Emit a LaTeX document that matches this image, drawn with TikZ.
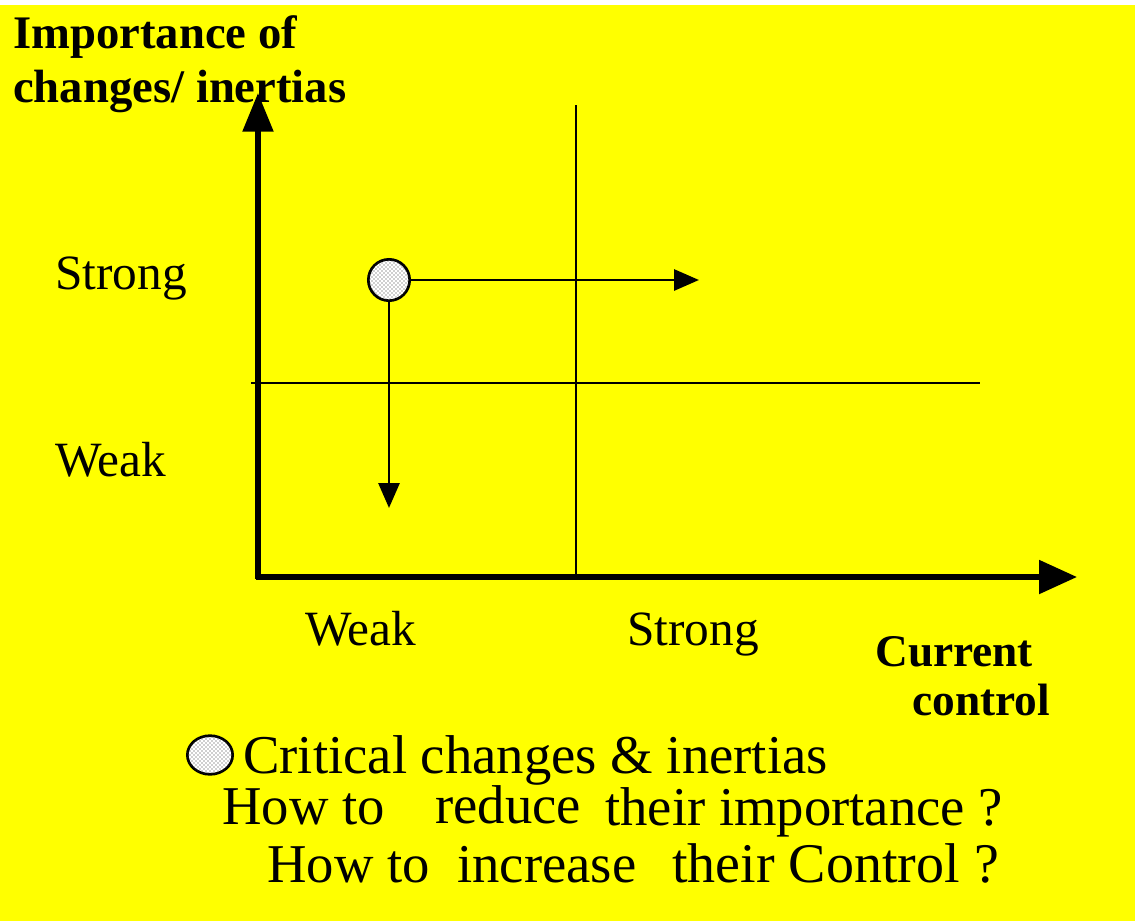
\documentclass[tikz,border=0pt]{standalone}
\usepackage{fontspec}
\setmainfont{Liberation Serif}
\usetikzlibrary{arrows.meta,patterns,shapes.geometric}
\definecolor{bgyellow}{RGB}{255,255,0}
\begin{document}
\begin{tikzpicture}[x=0.75pt,y=-0.75pt,
  axis/.style={line width=4pt},
  grid/.style={line width=1.1pt},
  move/.style={line width=2.2pt,-{Triangle[length=18.75pt,width=15.75pt]}},
  dotball/.style={circle,draw=black,line width=2pt,fill=white,inner sep=0pt,
    postaction={pattern=crosshatch dots,pattern color=black!80}},
  lbl/.style={anchor=base west,inner sep=0pt,font=\fontsize{37}{44}\selectfont},
  head/.style={anchor=base west,inner sep=0pt,font=\bfseries\fontsize{35}{42}\selectfont},
  legend/.style={anchor=base west,inner sep=0pt,font=\fontsize{41}{48}\selectfont}]
\useasboundingbox (0,0) rectangle (1135,921);
\fill[white] (0,0) rectangle (1135,921);
\fill[bgyellow] (0,5) rectangle (1135,921);
% axes
\coordinate (o) at (258,577);
\coordinate (ytip) at (258,93);
\coordinate (xtip) at (1077,577);
\draw[axis,-{Triangle[length=29pt,width=22.5pt]}] (258,579) -- (ytip);
\draw[axis,-{Triangle[length=28.5pt,width=24.75pt]}] (256,577) -- (xtip);
% quadrant lines
\coordinate (vt) at (576,105);
\coordinate (vb) at (576,577);
\coordinate (hl) at (251,383);
\coordinate (hr) at (980,383);
\draw[grid] (vt) -- (vb);
\draw[grid] (hl) -- (hr);
% critical point
\node[dotball,minimum size=31pt] (c) at (389,280) {};
\coordinate (rt) at (699,280);
\coordinate (dn) at (389,508);
\draw[move] (c.east) -- (rt);
\draw[move] (c.south) -- (dn);
% labels
\node[head] (t1) at (13,48) {Importance of};
\node[head] (t2) at (13,102) {changes/ inertias};
\node[lbl] (ys) at (55,289) {Strong};
\node[lbl] (yw) at (55,476) {Weak};
\node[lbl] (xw) at (305,645) {Weak};
\node[lbl] (xs) at (627,645) {Strong};
\node[head,font=\bfseries\fontsize{34}{40}\selectfont] (cx1) at (875,666) {Current};
\node[head,font=\bfseries\fontsize{34}{40}\selectfont] (cx2) at (912,715) {control};
% legend
\node[dotball,ellipse,minimum width=34pt,minimum height=29pt] (lc) at (210,755) {};
\node[legend] (l1) at (243,773) {Critical changes \& inertias};
\node[legend] (l2a) at (222,824) {How to};
\node[legend] (l2b) at (435,823) {reduce};
\node[legend] (l2c) at (605,825) {their importance ?};
\node[legend] (l3a) at (267,882) {How to};
\node[legend] (l3b) at (457,882) {increase};
\node[legend,font=\fontsize{42}{48}\selectfont] (l3c) at (672,882) {their Control ?};
\end{tikzpicture}
\end{document}
